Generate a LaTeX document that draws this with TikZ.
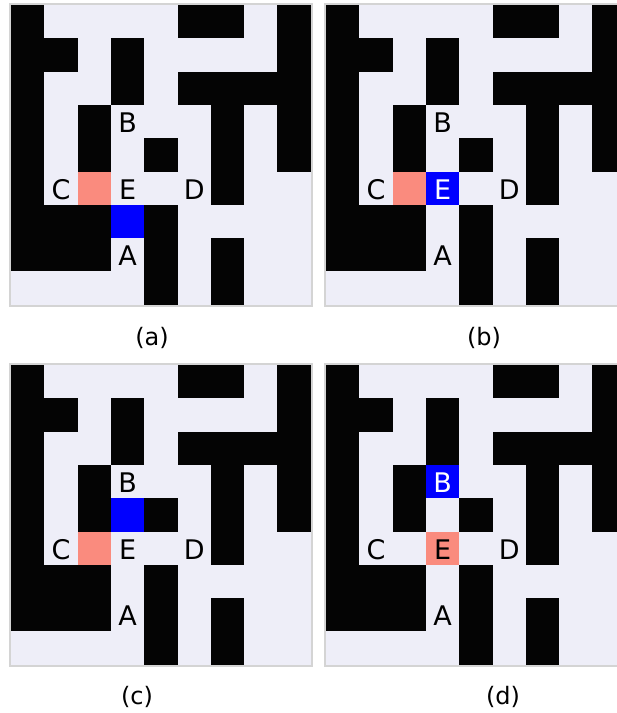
\documentclass[tikz,border=0pt]{standalone}
\usepackage{fontspec}
\setmainfont{DejaVu Sans}
\definecolor{bgl}{HTML}{EEEEF8}
\definecolor{wall}{HTML}{040404}
\definecolor{salm}{HTML}{FA8B7E}
\definecolor{blu}{HTML}{0000FF}
\definecolor{framegray}{HTML}{D4D4D4}
\newcommand\cs{33.3}
\newcommand\mazebase{%
  \fill[bgl] (0,0) rectangle (299.7,299.7);
  \foreach \r/\c in {0/0,0/5,0/6,0/8,
                     1/0,1/1,1/3,1/8,
                     2/0,2/3,2/5,2/6,2/7,2/8,
                     3/0,3/2,3/6,3/8,
                     4/0,4/2,4/4,4/6,4/8,
                     5/0,5/6,
                     6/0,6/1,6/2,6/4,
                     7/0,7/1,7/2,7/4,7/6,
                     8/4,8/6}{
    \fill[wall] (\c*\cs,\r*\cs) rectangle ++(\cs,\cs);
  }
  \draw[framegray, line width=2pt] (-1,-1) rectangle (300.7,300.7);
}
\newcommand\cellfill[3]{\fill[#1] (#3*\cs,#2*\cs) rectangle ++(\cs,\cs);}
\tikzset{
  lbl/.style={font=\fontsize{27}{32}\selectfont, inner sep=0pt, text=black},
  lblw/.style={lbl, text=white},
  capt/.style={font=\fontsize{24}{28}\selectfont, inner sep=0pt}
}
\begin{document}
\begin{tikzpicture}[x=1pt,y=-1pt]
\clip (0,0) rectangle (617,713);
\fill[white] (0,0) rectangle (617,713);

% (a)
\begin{scope}[shift={(11,5)}]
  \mazebase
  \cellfill{salm}{5}{2}
  \cellfill{blu}{6}{3}
  \node[lbl] (aB) at (116.55,118) {B};
  \node[lbl] (aC) at (49.95,184.5) {C};
  \node[lbl] (aE) at (116.55,184.5) {E};
  \node[lbl] (aD) at (183.15,184.5) {D};
  \node[lbl] (aA) at (116.55,250.5) {A};
\end{scope}
\node[capt] (capa) at (152,338) {(a)};

% (b)
\begin{scope}[shift={(326,5)}]
  \mazebase
  \cellfill{salm}{5}{2}
  \cellfill{blu}{5}{3}
  \node[lbl] (bB) at (116.55,118) {B};
  \node[lbl] (bC) at (49.95,184.5) {C};
  \node[lblw] (bE) at (116.55,184.5) {E};
  \node[lbl] (bD) at (183.15,184.5) {D};
  \node[lbl] (bA) at (116.55,250.5) {A};
\end{scope}
\node[capt] (capb) at (484,338) {(b)};

% (c)
\begin{scope}[shift={(11,365)}]
  \mazebase
  \cellfill{salm}{5}{2}
  \cellfill{blu}{4}{3}
  \node[lbl] (cB) at (116.55,118) {B};
  \node[lbl] (cC) at (49.95,184.5) {C};
  \node[lbl] (cE) at (116.55,184.5) {E};
  \node[lbl] (cD) at (183.15,184.5) {D};
  \node[lbl] (cA) at (116.55,250.5) {A};
\end{scope}
\node[capt] (capc) at (137,697) {(c)};

% (d)
\begin{scope}[shift={(326,365)}]
  \mazebase
  \cellfill{blu}{3}{3}
  \cellfill{salm}{5}{3}
  \node[lblw] (dB) at (116.55,118) {B};
  \node[lbl] (dC) at (49.95,184.5) {C};
  \node[lbl] (dE) at (116.55,184.5) {E};
  \node[lbl] (dD) at (183.15,184.5) {D};
  \node[lbl] (dA) at (116.55,250.5) {A};
\end{scope}
\node[capt] (capd) at (503,697) {(d)};
\end{tikzpicture}
\end{document}
